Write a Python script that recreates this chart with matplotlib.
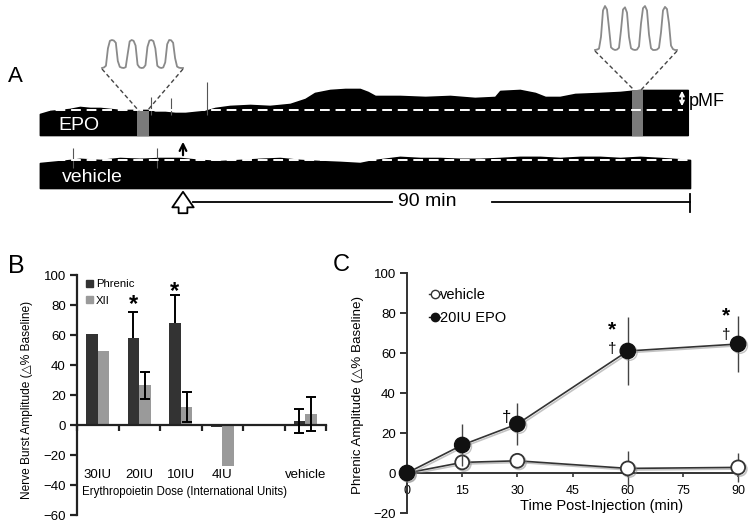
import numpy as np
import matplotlib
matplotlib.use("Agg")
from matplotlib import pyplot as plt
from matplotlib import patheffects as pe
from matplotlib.lines import Line2D
from matplotlib.patches import Patch

plt.rcParams['font.family'] = ['Liberation Sans', 'DejaVu Sans']

# ---------------- data ----------------
# panel A: envelope of the integrated phrenic traces (top edge, relative to baseline = 1)
epo_t = [-25.4, -23.6, -21.8, -20.1, -18.3, -16.5, -14.7, -13.0, -11.2, -9.4, -8.2, -6.0,
         -5.0, -3.2, -1.4, 0.4, 2.1, 3.9, 5.7, 8.3, 11.9, 15.4, 19.0, 21.7, 23.4, 26.1,
         28.8, 31.4, 32.8, 34.1, 38.5, 43.0, 47.4, 51.8, 55.4, 56.3, 59.8, 62.5, 64.3,
         66.9, 69.6, 74.0, 77.6, 81.1, 84.7, 89.6]
epo_amp = [0.84, 0.96, 1.0, 1.04, 1.12, 1.08, 1.08, 1.04, 1.0, 1.0, 1.0, 1.0,
           0.92, 0.92, 0.88, 0.88, 0.92, 0.96, 1.08, 1.16, 1.2, 1.16, 1.24, 1.44, 1.68, 1.8,
           1.84, 1.84, 1.72, 1.56, 1.56, 1.52, 1.56, 1.48, 1.52, 1.76, 1.8, 1.68, 1.52,
           1.52, 1.64, 1.68, 1.72, 1.8, 1.8, 1.8]
epo_spike_t = [-5.6, -2.1, 4.3]
epo_spike_amp = [1.52, 1.48, 2.12]

veh_t = [-25.4, -21.8, -18.3, -14.7, -11.2, -7.6, -4.1, -0.5, 3.0, 6.6, 10.1, 13.7, 17.2,
         20.8, 24.3, 27.9, 31.4, 34.1, 38.5, 42.1, 45.6, 49.2, 52.7, 56.3, 59.8, 63.4,
         66.9, 70.5, 74.0, 77.6, 81.1, 84.7, 90.0]
veh_amp = [0.89, 0.96, 1.04, 1.0, 1.07, 1.04, 1.07, 1.07, 1.0, 0.96, 1.0, 1.04, 1.07,
           1.0, 0.96, 0.93, 0.89, 1.0, 1.11, 1.07, 1.07, 1.04, 1.04, 1.07, 1.11, 1.11,
           1.07, 1.11, 1.11, 1.07, 1.11, 1.07, 1.0]
veh_spike_t = [-19.5, -4.6]
veh_spike_amp = [1.43, 1.43]

# expanded bursts shown above the trace (normalised 0..1)
burst_early = [0.0, 0.02, 0.08, 0.7, 0.97, 1.0, 0.98, 0.9, 0.25, 0.04, 0.01, 0.0, 0.03, 0.5,
               0.95, 1.0, 0.97, 0.8, 0.12, 0.02, 0.0, 0.01, 0.1, 0.75, 0.98, 1.0, 0.96, 0.7,
               0.08, 0.02, 0.0, 0.02, 0.2, 0.85, 1.0, 0.99, 0.9, 0.35, 0.05, 0.01, 0.0, 0.0]
burst_late = [0.0, 0.01, 0.03, 0.3, 0.9, 1.0, 0.92, 0.5, 0.06, 0.02, 0.0, 0.01, 0.05, 0.45,
              0.92, 0.97, 0.85, 0.3, 0.04, 0.01, 0.0, 0.01, 0.08, 0.6, 0.95, 1.0, 0.9, 0.35,
              0.04, 0.0, 0.0, 0.01, 0.05, 0.4, 0.9, 0.98, 0.93, 0.6, 0.1, 0.02, 0.0, 0.0]

# panel B: dose response
doses = ['30IU', '20IU', '10IU', '4IU', '', 'vehicle']
phrenic = [61, 58, 68, -1, np.nan, 2.5]
phrenic_err = [0, 17.5, 19, 0, 0, 8]
xii = [49.5, 26.5, 11.7, -27, np.nan, 7.5]
xii_err = [0, 9, 10, 0, 0, 11.5]
star_b = {1: 80, 2: 89}

# panel C: time course
time_pts = [0, 15, 30, 60, 90]
epo_20iu = [0, 14, 24.5, 61, 64.5]
epo_20iu_err = [0, 10.4, 10.4, 17, 13.8]
vehicle = [0, 5.3, 6.1, 2.3, 2.8]
vehicle_err = [0, 3.5, 3, 8.8, 7.2]

# ---------------- figure ----------------
W, H = 750, 523
fig = plt.figure(figsize=(7.5, 5.23), dpi=100)
shadow = [pe.SimpleLineShadow(offset=(1.2, -1.2), shadow_color='#888888', alpha=0.5), pe.Normal()]
pshadow = [pe.SimplePatchShadow(offset=(1.2, -1.2), shadow_rgbFace='#888888', alpha=0.5), pe.Normal()]

# ----- panel A (x in minutes from injection, y in pixel rows) -----
PXM = 5.633           # pixels per minute
X0 = 183              # injection position (px)
def tm(px):
    return (px - X0) / PXM

axa = fig.add_axes([0, 1 - 215 / H, 1, 215 / H])
axa.set_xlim(tm(0), tm(W))
axa.set_ylim(215, 0)
axa.axis('off')

EPO_BOT, EPO_SC = 135, 25
VEH_BOT, VEH_SC = 188, 28
ep_top = EPO_BOT - np.array(epo_amp) * EPO_SC
vh_top = VEH_BOT - np.array(veh_amp) * VEH_SC
axa.fill_between(epo_t, EPO_BOT, ep_top, color='black', lw=1.2, edgecolor='black')
axa.fill_between(veh_t, VEH_BOT, vh_top, color='black', lw=1.2, edgecolor='black')
axa.vlines(epo_spike_t, EPO_BOT - 20, EPO_BOT - np.array(epo_spike_amp) * EPO_SC,
           color='#555555', lw=0.8)
axa.vlines(veh_spike_t, VEH_BOT - 20, VEH_BOT - np.array(veh_spike_amp) * VEH_SC,
           color='#555555', lw=0.8)

# baseline dashes
axa.plot([epo_t[0], tm(683)], [EPO_BOT - EPO_SC] * 2, color='white', lw=1.4, dashes=(5, 3))
axa.plot([veh_t[0], veh_t[-1]], [VEH_BOT - VEH_SC] * 2, color='white', lw=1.4, dashes=(5, 3))

# highlighted segments + expanded bursts
for (g0, g1, gtop, bx0, bx1, bbase, bh, vals) in [
        (137, 149, 111, 102, 183, 68, 28, burst_early),
        (632, 643, 90, 595, 677, 50, 44, burst_late)]:
    axa.fill_between([tm(g0), tm(g1)], EPO_BOT + 1, gtop, color='#7a7a7a', lw=0)
    xs = np.linspace(tm(bx0), tm(bx1), len(vals))
    axa.plot(xs, bbase - np.array(vals) * bh, color='#8a8a8a', lw=1.3)
    axa.plot([tm(bx0), tm(g0 + 2)], [bbase + 1, gtop], color='#444444', lw=1, dashes=(3, 2))
    axa.plot([tm(bx1), tm(g1 - 2)], [bbase + 1, gtop], color='#444444', lw=1, dashes=(3, 2))

axa.text(tm(58), 126, 'EPO', color='white', fontsize=14, va='center', ha='left')
axa.text(tm(62), 177, 'vehicle', color='white', fontsize=14, va='center', ha='left')
axa.text(tm(8), 76, 'A', fontsize=16, va='center', ha='left')

# pMF marker
axa.annotate('', xy=(tm(682), 88), xytext=(tm(682), 109),
             arrowprops=dict(arrowstyle='<->', color='white', lw=1.3, mutation_scale=7))
axa.text(tm(689), 101, 'pMF', fontsize=13, va='center', ha='left')

# injection arrows and 90 min scale
axa.annotate('', xy=(0, 139), xytext=(0, 158),
             arrowprops=dict(arrowstyle='->', color='black', lw=1.6, mutation_scale=12))
axa.annotate('', xy=(0, 189), xytext=(0, 216),
             arrowprops=dict(arrowstyle='simple,head_length=0.8,head_width=1.1,tail_width=0.45',
                             fc='white', ec='black', lw=1.3, mutation_scale=14))
axa.plot([tm(193), tm(392)], [202, 202], color='black', lw=1.3)
axa.plot([tm(492), 90], [202, 202], color='black', lw=1.3)
axa.plot([90, 90], [194, 212], color='black', lw=1.3)
axa.text(tm(427), 202, '90 min', fontsize=14, va='center', ha='center')

# ----- panel B -----
AXC = '#222222'
axb = fig.add_axes([77 / W, 1 - 515 / H, (326 - 77) / W, 240 / H])
x = np.arange(len(doses))
bw = 0.28
axb.bar(x - bw / 2, phrenic, bw, color='#333333', zorder=2)
axb.bar(x + bw / 2, xii, bw, color='#9a9a9a', zorder=2)
for xi, v, e in zip(x - bw / 2, phrenic, phrenic_err):
    if e > 0:
        # drawn behind the dark bar, so only the upper half shows
        axb.errorbar(xi, v, yerr=e, color='black', lw=1.4, capsize=3.5, capthick=1.4,
                     zorder=1.5 if v > 20 else 3)
for xi, v, e in zip(x + bw / 2, xii, xii_err):
    if e > 0:
        axb.errorbar(xi, v, yerr=e, color='black', lw=1.4, capsize=3.5, capthick=1.4, zorder=3)
for i, yv in star_b.items():
    axb.text(i - bw / 2, yv, '*', fontsize=17, ha='center', va='center', fontweight='bold')
axb.set_xlim(-0.5, 5.5)
axb.set_ylim(-60, 100)
axb.set_yticks(np.arange(-60, 101, 20))
axb.set_xticks(np.arange(-0.5, 6, 1))
axb.set_xticklabels([])
axb.spines['bottom'].set_position(('data', 0))
for s in ['top', 'right']:
    axb.spines[s].set_visible(False)
for s in ['left', 'bottom']:
    axb.spines[s].set_linewidth(1.6)
    axb.spines[s].set_color(AXC)
    axb.spines[s].set_path_effects(pshadow)
axb.tick_params(axis='y', length=5, width=1.6, color=AXC, labelsize=9.5, pad=3)
axb.tick_params(axis='x', length=4, width=1.6, color=AXC)
for i, d in enumerate(doses):
    axb.text(i, -33, d, fontsize=9.5, ha='center', va='center')
axb.text(2.08, -44.7, 'Erythropoietin Dose (International Units)', fontsize=8.3,
         ha='center', va='center')
axb.set_ylabel('Nerve Burst Amplitude (\u25b3% Baseline)', fontsize=8.6, labelpad=2)
axb.yaxis.set_label_coords(-0.175, 0.48)
axb.legend(handles=[Patch(color='#333333', label='Phrenic'),
                    Patch(color='#9a9a9a', label='XII')],
           loc='upper left', bbox_to_anchor=(0.01, 1.01), frameon=False, fontsize=8.2,
           handlelength=0.55, handleheight=0.55, handletextpad=0.3, labelspacing=0.55,
           borderaxespad=0.2)
fig.text(8 / W, 1 - 266 / H, 'B', fontsize=18, va='center', ha='left')

# ----- panel C -----
axc = fig.add_axes([407 / W, 1 - 513 / H, (740 - 407) / W, 240 / H])
v_line = axc.errorbar(time_pts, vehicle, yerr=vehicle_err, color='#333333', lw=1.2,
                      marker='o', ms=10, mfc='white', mec='#333333', mew=1.3,
                      ecolor='#444444', elinewidth=1, capsize=0, clip_on=False, zorder=3)
e_line = axc.errorbar(time_pts, epo_20iu, yerr=epo_20iu_err, color='#333333', lw=1.2,
                      marker='o', ms=11, mfc='#111111', mec='#111111', ecolor='#444444',
                      elinewidth=1, capsize=0, clip_on=False, zorder=4)
for cont in (v_line, e_line):
    cont[0].set_path_effects(shadow)
axc.text(27.1, 27.7, '\u2020', fontsize=12, ha='center', va='center')
axc.text(55.8, 71.5, '*', fontsize=15, ha='center', va='center', fontweight='bold')
axc.text(55.8, 62.0, '\u2020', fontsize=11, ha='center', va='center')
axc.text(86.7, 78.5, '*', fontsize=15, ha='center', va='center', fontweight='bold')
axc.text(86.7, 69.0, '\u2020', fontsize=11, ha='center', va='center')
axc.set_xlim(0, 90.5)
axc.set_ylim(-20, 100)
axc.set_yticks(np.arange(-20, 101, 20))
axc.set_xticks(np.arange(0, 91, 15))
axc.spines['bottom'].set_position(('data', 0))
for s in ['top', 'right']:
    axc.spines[s].set_visible(False)
for s in ['left', 'bottom']:
    axc.spines[s].set_linewidth(1.4)
    axc.spines[s].set_color('#333333')
    axc.spines[s].set_path_effects(pshadow)
axc.tick_params(axis='y', length=5, width=1.4, color='#333333', labelsize=9.5, pad=3)
axc.tick_params(axis='x', length=3, width=1.2, color='#333333', labelsize=9, pad=6)
axc.set_xlabel('Time Post-Injection (min)', fontsize=10.5)
axc.xaxis.set_label_coords(0.585, 0.028)
axc.xaxis.label.set_va('center')
axc.set_ylabel('Phrenic Amplitude (\u25b3% Baseline)', fontsize=9.6)
axc.yaxis.set_label_coords(-0.13, 0.49)
axc.legend(handles=[Line2D([], [], color='#333333', marker='o', ms=6, mfc='white', lw=1,
                           label='vehicle'),
                    Line2D([], [], color='#111111', marker='o', ms=6, lw=1,
                           label='20IU EPO')],
           loc='upper left', bbox_to_anchor=(0.05, 0.96), frameon=False, fontsize=10.5,
           handlelength=0.7, handletextpad=0.05, labelspacing=0.6, borderaxespad=0)
fig.text(333 / W, 1 - 265 / H, 'C', fontsize=17, va='center', ha='left')

fig.savefig('out.png', dpi=100)
